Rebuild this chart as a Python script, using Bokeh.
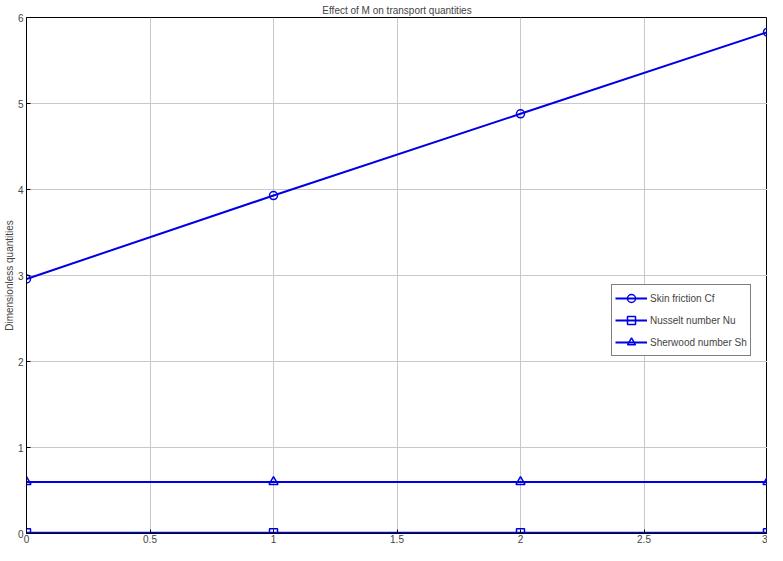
from bokeh.plotting import figure
from bokeh.models import Range1d, FixedTicker, Legend, LegendItem
from bokeh.embed import file_html
from bokeh.resources import INLINE

M = [0, 1, 2, 3]
skin_friction = [2.96, 3.93, 4.88, 5.83]
nusselt = [0.01, 0.01, 0.01, 0.01]
sherwood = [0.60, 0.60, 0.60, 0.60]
labels = ["Skin friction Cf", "Nusselt number Nu", "Sherwood number Sh"]

FONT = "Liberation Sans"
BLUE = "#0000e6"

p = figure(width=767, height=545, output_backend="svg", toolbar_location=None,
           x_range=Range1d(0, 3), y_range=Range1d(0, 6),
           title="Effect of M on transport quantities",
           min_border_left=0, min_border_right=0, min_border_top=0, min_border_bottom=0)
p.title.align = "center"
p.title.text_font = FONT
p.title.text_font_size = "10px"
p.title.text_font_style = "normal"
p.title.offset = 0
p.title.standoff = 4

p.outline_line_color = "black"
p.outline_line_width = 1

p.xaxis.ticker = FixedTicker(ticks=[0, 0.5, 1, 1.5, 2, 2.5, 3])
p.yaxis.ticker = FixedTicker(ticks=[0, 1, 2, 3, 4, 5, 6])
for ax in (p.xaxis[0], p.yaxis[0]):
    ax.major_tick_in = 4
    ax.major_tick_out = 0
    ax.minor_tick_in = 0
    ax.minor_tick_out = 0
    ax.major_label_text_font = FONT
    ax.major_label_text_font_size = "10px"
    ax.axis_line_color = "black"
    ax.major_tick_line_color = "black"
p.xaxis.major_label_standoff = 1
p.yaxis.major_label_standoff = 3
p.yaxis.axis_label = "Dimensionless quantities"
p.yaxis.axis_label_text_font = FONT
p.yaxis.axis_label_text_font_size = "10px"
p.yaxis.axis_label_text_font_style = "normal"
p.yaxis.axis_label_standoff = 0

p.xgrid.grid_line_color = "#c8c8c8"
p.ygrid.grid_line_color = "#c8c8c8"

l1 = p.line(M, skin_friction, line_color=BLUE, line_width=2)
s1 = p.scatter(M, skin_friction, marker="circle", size=8, line_color=BLUE, line_width=1.5, fill_color=None)
l2 = p.line(M, nusselt, line_color=BLUE, line_width=2)
s2 = p.scatter(M, nusselt, marker="square", size=8, line_color=BLUE, line_width=1.5, fill_color=None)
l3 = p.line(M, sherwood, line_color=BLUE, line_width=2)
s3 = p.scatter(M, sherwood, marker="triangle", size=9, line_color=BLUE, line_width=1.5, fill_color=None)

items = [LegendItem(label=labels[0], renderers=[l1, s1]),
         LegendItem(label=labels[1], renderers=[l2, s2]),
         LegendItem(label=labels[2], renderers=[l3, s3])]
legend = Legend(items=items, location=(585, 177))
legend.label_text_font = FONT
legend.label_text_font_size = "10px"
legend.border_line_color = "black"
legend.border_line_width = 1
legend.background_fill_alpha = 1
legend.padding = 3
legend.spacing = 2
legend.label_height = 20
legend.glyph_height = 20
legend.glyph_width = 32
legend.label_standoff = 3
legend.margin = 0
p.add_layout(legend, "center")

open("out.html", "w").write(file_html(p, INLINE))
